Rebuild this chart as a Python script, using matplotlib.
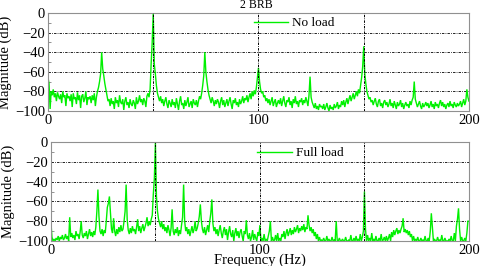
import numpy as np
import matplotlib
matplotlib.use("Agg")
import matplotlib.pyplot as plt
from matplotlib.ticker import MultipleLocator

# Frequency axis: 0 .. 200 Hz in 0.5 Hz steps (401 points)
freq_step = 0.5

# Magnitude (dB), No load, 20 values per 10 Hz row
no_load = [
    -66, -72, -98, -80, -84, -78, -86, -82, -90, -81, -85, -88, -83, -92, -80, -86, -84, -95, -82, -87,
    -85, -90, -83, -96, -82, -88, -86, -93, -81, -89, -84, -97, -85, -83, -91, -87, -80, -94, -86, -88,
    -85, -92, -84, -89, -82, -95, -86, -80, -76, -70, -62, -40, -57, -64, -72, -78, -84, -90, -88, -95,
    -87, -93, -90, -98, -86, -92, -89, -96, -84, -91, -93, -88, -99, -90, -86, -94, -91, -97, -88, -93,
    -95, -89, -92, -98, -86, -93, -90, -84, -91, -88, -94, -87, -90, -96, -85, -82, -86, -78, -52, -30,
    0, -52, -62, -74, -82, -86, -90, -85, -92, -88, -95, -90, -86, -93, -97, -89, -92, -96, -88, -94,
    -91, -97, -87, -93, -99, -90, -85, -94, -92, -98, -89, -95, -91, -86, -96, -93, -90, -97, -88, -92,
    -94, -89, -96, -90, -85, -88, -82, -74, -64, -40, -60, -70, -78, -84, -88, -92, -86, -90, -95, -89,
    -93, -88, -91, -97, -90, -86, -94, -89, -96, -92, -88, -95, -90, -86, -93, -98, -89, -92, -87, -94,
    -91, -96, -88, -93, -90, -85, -92, -87, -89, -84, -91, -86, -82, -88, -80, -85, -79, -83, -76, -66,
    -56, -70, -78, -82, -80, -86, -84, -90, -87, -92, -88, -94, -90, -86, -95, -91, -88, -96, -92, -89,
    -93, -87, -95, -90, -85, -92, -96, -89, -91, -86, -94, -90, -97, -88, -92, -85, -93, -90, -96, -89,
    -91, -87, -94, -89, -92, -86, -90, -95, -84, -65, -86, -91, -94, -97, -92, -98, -95, -99, -93, -96,
    -95, -98, -93, -99, -96, -92, -97, -100, -94, -98, -96, -99, -93, -97, -95, -91, -98, -94, -96, -90,
    -94, -89, -96, -91, -87, -93, -88, -84, -90, -86, -82, -88, -84, -80, -85, -78, -82, -74, -66, -55,
    -34, -62, -72, -80, -84, -88, -86, -91, -89, -94, -90, -87, -93, -96, -90, -88, -95, -92, -97, -91,
    -89, -94, -91, -96, -93, -88, -95, -92, -97, -90, -94, -98, -91, -95, -93, -89, -96, -92, -98, -94,
    -91, -95, -93, -97, -90, -94, -89, -86, -70, -88, -92, -96, -93, -90, -95, -98, -92, -96, -94, -91,
    -95, -92, -97, -94, -90, -96, -93, -98, -91, -95, -93, -97, -92, -89, -95, -91, -96, -93, -98, -94,
    -92, -96, -90, -95, -93, -97, -91, -94, -96, -92, -95, -93, -90, -96, -92, -88, -94, -90, -78, -86,
    -90,
]

# Magnitude (dB), Full load
full_load = [
    -80, -96, -100, -98, -100, -97, -99, -95, -100, -96, -98, -94, -99, -97, -93, -98, -95, -100, -76, -96,
    -92, -97, -94, -99, -90, -95, -93, -98, -91, -80, -94, -97, -92, -95, -90, -98, -93, -88, -95, -91,
    -96, -90, -94, -86, -70, -48, -75, -90, -93, -88, -95, -89, -92, -80, -66, -62, -55, -72, -88, -92,
    -77, -90, -95, -88, -93, -86, -91, -84, -90, -88, -80, -70, -43, -78, -89, -93, -87, -92, -85, -90,
    -88, -93, -86, -78, -90, -85, -92, -87, -83, -90, -86, -82, -76, -85, -80, -84, -78, -74, -53, -37,
    0, -55, -70, -78, -82, -86, -80, -88, -83, -90, -86, -92, -84, -89, -95, -87, -68, -90, -94, -88,
    -92, -86, -95, -89, -93, -84, -76, -43, -80, -90, -86, -93, -88, -95, -90, -85, -92, -88, -80, -90,
    -87, -82, -75, -63, -80, -88, -92, -86, -94, -89, -84, -91, -80, -72, -58, -82, -90, -86, -93, -88,
    -95, -89, -84, -92, -97, -90, -86, -94, -88, -99, -91, -85, -93, -96, -89, -100, -92, -87, -95, -90,
    -97, -91, -88, -95, -100, -90, -93, -79, -94, -98, -92, -100, -96, -89, -99, -93, -97, -100, -91, -95,
    -84, -100, -97, -100, -93, -100, -98, -100, -95, -90, -80, -100, -96, -100, -99, -94, -100, -92, -100, -97,
    -100, -93, -96, -90, -98, -92, -88, -95, -91, -87, -94, -89, -93, -86, -91, -88, -84, -92, -87, -90,
    -85, -89, -83, -91, -86, -88, -74, -84, -90, -86, -92, -88, -95, -91, -98, -93, -100, -96, -100, -99,
    -100, -97, -100, -100, -95, -100, -98, -100, -100, -96, -100, -99, -100, -80, -100, -100, -97, -100, -100, -98,
    -100, -100, -96, -100, -100, -99, -100, -94, -100, -100, -97, -100, -95, -100, -98, -100, -93, -100, -96, -90,
    -50, -88, -100, -94, -100, -97, -100, -92, -100, -98, -100, -95, -100, -100, -97, -100, -93, -100, -99, -96,
    -100, -95, -100, -97, -93, -100, -91, -96, -89, -94, -90, -87, -93, -89, -92, -88, -85, -77, -91, -88,
    -92, -89, -94, -90, -96, -93, -100, -95, -100, -98, -100, -96, -100, -100, -97, -100, -99, -100, -95, -100,
    -100, -97, -100, -90, -72, -86, -100, -98, -100, -100, -96, -100, -99, -100, -94, -100, -100, -97, -100, -100,
    -100, -98, -100, -95, -100, -100, -92, -100, -85, -78, -67, -88, -100, -96, -100, -100, -97, -100, -92, -80,
    -80,
]

series_labels = ["No load", "Full load"]
x_ticks = [0, 100, 200]
x_grid = [50, 100, 150]
y_ticks = [0, -20, -40, -60, -80, -100]
title_text = "2 BRB"
xlabel = "Frequency (Hz)"
ylabel = "Magnitude (dB)"

plt.rcParams['font.family'] = ['Liberation Serif', 'DejaVu Serif']

fig = plt.figure(figsize=(4.8, 2.66), dpi=100)
ax1 = fig.add_axes([0.100, 0.583, 0.877, 0.368])
ax2 = fig.add_axes([0.106, 0.094, 0.871, 0.372])

green = '#00f000'
grid_ls = (0, (2.5, 1.2, 0.8, 1.2))

for ax, data, lab in [(ax1, no_load, series_labels[0]), (ax2, full_load, series_labels[1])]:
    f = np.arange(len(data)) * freq_step
    ax.plot(f, data, color=green, lw=1.0, label=lab, solid_joinstyle='miter')
    ax.set_xlim(0, 200)
    ax.set_ylim(-100, 0)
    ax.set_xticks(x_ticks)
    ax.set_yticks(y_ticks)
    ax.yaxis.set_minor_locator(MultipleLocator(10))
    ax.tick_params(axis='both', which='both', direction='in', length=2, width=0.6,
                   color='#808080', labelsize=10.5, pad=2)
    ax.tick_params(axis='y', which='major', length=0)
    ax.tick_params(axis='x', which='major', length=0)
    for s in ax.spines.values():
        s.set_color('#909090')
        s.set_linewidth(0.8)
    for gx in x_grid:
        ax.axvline(gx, color='black', lw=0.7, ls=grid_ls, zorder=3)
    for gy in [-20, -40, -60, -80]:
        ax.axhline(gy, color='#222222', lw=0.7, ls=grid_ls, zorder=0.5)
    ax.set_ylabel(ylabel, fontsize=10.5, labelpad=2)

ax1.legend(loc='upper left', bbox_to_anchor=(0.47, 1.04), frameon=False,
           fontsize=9.5, handlelength=2.6, handletextpad=0.3, borderpad=0.1)
ax2.legend(loc='upper left', bbox_to_anchor=(0.475, 1.03), frameon=False,
           fontsize=9.5, handlelength=2.6, handletextpad=0.3, borderpad=0.1)

fig.text(0.535, 1 - 5.5 / 266, title_text, ha='center', va='center', fontsize=8.5)
ax2.set_xlabel(xlabel, fontsize=10.5, labelpad=-2.5)

fig.savefig('out.png', dpi=100)
